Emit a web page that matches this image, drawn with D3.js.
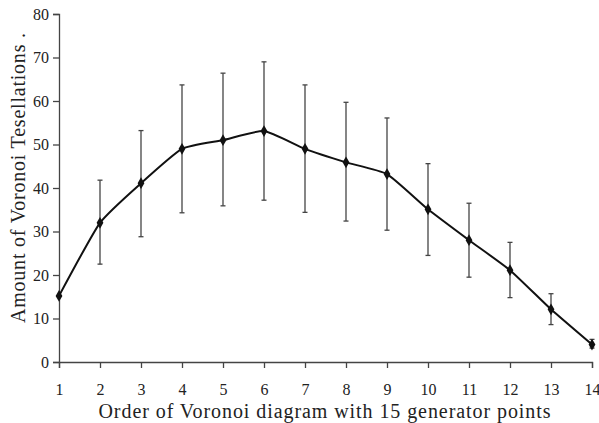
<!DOCTYPE html>
<html>
<head>
<meta charset="utf-8">
<script src="https://cdn.jsdelivr.net/npm/d3@7"></script>
<style>
  body { margin: 0; background: #fff; }
</style>
</head>
<body>
<svg id="chart"></svg>
<script>
// Order of the Voronoi diagram (x) and mean amount of tessellations (y)
const orders = [1, 2, 3, 4, 5, 6, 7, 8, 9, 10, 11, 12, 13, 14];
const means = [15.2, 32, 41.1, 49, 51, 53.1, 49, 45.9, 43.2, 35.1, 28, 21.1, 12.1, 4];
const upper = [15.2, 41.8, 53.2, 63.7, 66.4, 69, 63.7, 59.7, 56.1, 45.6, 36.5, 27.5, 15.7, 5.2];
const lower = [15.2, 22.5, 28.8, 34.3, 35.9, 37.2, 34.4, 32.4, 30.3, 24.5, 19.5, 14.8, 8.6, 3.2];
const y_ticks = [0, 10, 20, 30, 40, 50, 60, 70, 80];

const FONT = "Liberation Serif";
const width = 599, height = 423;
const margins = { top: 14, right: 7, bottom: 61, left: 59 };
const chart_width = width - margins.left - margins.right;
const chart_height = height - margins.top - margins.bottom;

const x_scale = d3.scaleLinear().domain([1, 14]).range([0, chart_width]);
const y_scale = d3.scaleLinear().domain([0, 80]).range([chart_height, 0]);

const svg = d3.select("#chart")
    .attr("width", width)
    .attr("height", height);

const g = svg.append("g")
    .attr("transform", `translate(${margins.left},${margins.top})`);

// Axes
const x_axis = g.append("g")
    .attr("transform", `translate(0,${chart_height})`)
    .call(d3.axisBottom(x_scale).tickValues(orders).tickFormat(d3.format("d")).tickSize(6).tickPadding(16));
const y_axis = g.append("g")
    .call(d3.axisLeft(y_scale).tickValues(y_ticks).tickSize(6).tickPadding(4));

[x_axis, y_axis].forEach(ax => {
    ax.attr("font-family", FONT).attr("font-size", 16);
    ax.select(".domain").attr("stroke", "#444").attr("stroke-width", 1.3);
    ax.selectAll(".tick line").attr("stroke", "#444").attr("stroke-width", 1.3);
    ax.selectAll(".tick text")
        .attr("font-family", FONT)
        .attr("font-size", 16)
        .attr("fill", "#222");
});

// Error bars
const bars = g.selectAll(".err")
    .data(orders.map((o, i) => ({ o, lo: lower[i], hi: upper[i] })))
    .enter()
    .append("g")
    .attr("class", "err");
bars.append("line")
    .attr("x1", d => x_scale(d.o)).attr("x2", d => x_scale(d.o))
    .attr("y1", d => y_scale(d.lo)).attr("y2", d => y_scale(d.hi))
    .attr("stroke", "#444").attr("stroke-width", 1.3);
["lo", "hi"].forEach(k => {
    bars.append("line")
        .attr("x1", d => x_scale(d.o) - 2.5).attr("x2", d => x_scale(d.o) + 2.5)
        .attr("y1", d => y_scale(d[k])).attr("y2", d => y_scale(d[k]))
        .attr("stroke", "#444").attr("stroke-width", 1.3);
});

// Smoothed mean line
const line = d3.line()
    .x((d, i) => x_scale(orders[i]))
    .y(d => y_scale(d))
    .curve(d3.curveCardinal.tension(0.5));

g.append("path")
    .datum(means)
    .attr("d", line)
    .attr("fill", "none")
    .attr("stroke", "#111")
    .attr("stroke-width", 2);

// Diamond markers
g.selectAll(".pt")
    .data(means)
    .enter()
    .append("path")
    .attr("class", "pt")
    .attr("d", d3.symbol().type(d3.symbolDiamond).size(40))
    .attr("transform", (d, i) => `translate(${x_scale(orders[i])},${y_scale(d)})`)
    .attr("fill", "#111");

// Axis titles
svg.append("text")
    .attr("x", margins.left + chart_width / 2 - 1)
    .attr("y", 418)
    .attr("text-anchor", "middle")
    .attr("font-family", FONT)
    .attr("font-size", 20)
    .attr("fill", "#222")
    .attr("textLength", 452)
    .text("Order of Voronoi diagram with 15 generator points");

svg.append("text")
    .attr("transform", "translate(25,178) rotate(-90)")
    .attr("text-anchor", "middle")
    .attr("font-family", FONT)
    .attr("font-size", 20)
    .attr("fill", "#222")
    .attr("textLength", 290)
    .text("Amount of Voronoi Tesellations .");
</script>
</body>
</html>
